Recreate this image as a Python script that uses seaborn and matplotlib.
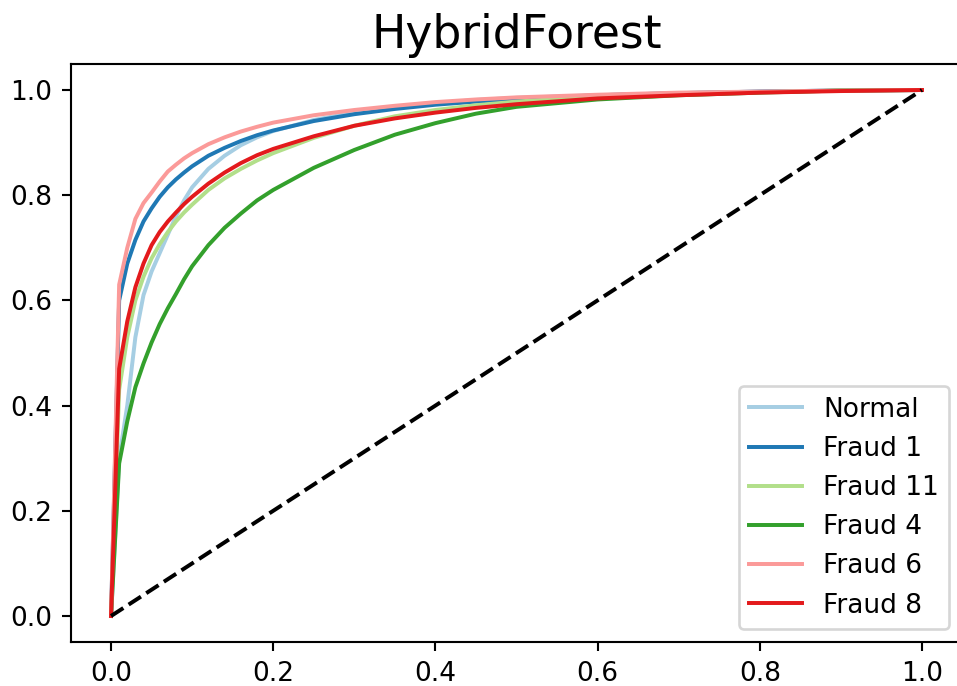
import numpy as np
import pandas as pd
import matplotlib
matplotlib.use("Agg")
import matplotlib.pyplot as plt
import seaborn as sns

fpr = [0, .01, .02, .03, .04, .05, .06, .07, .08, .09, .1, .12, .14, .16, .18, .2,
       .25, .3, .35, .4, .45, .5, .6, .7, .8, .9, 1.0]
classes = ["Normal", "Fraud 1", "Fraud 11", "Fraud 4", "Fraud 6", "Fraud 8"]
tpr_normal = [0, .30, .40, .53, .61, .655, .69, .725, .76, .79, .815, .85, .875, .895, .91, .922,
              .943, .957, .967, .975, .981, .985, .99, .994, .997, .999, 1]
tpr_fraud1 = [0, .60, .67, .715, .75, .775, .797, .815, .83, .843, .855, .875, .89, .903, .914, .923,
              .941, .954, .964, .972, .978, .983, .99, .994, .997, .999, 1]
tpr_fraud11 = [0, .43, .53, .60, .645, .68, .707, .73, .75, .767, .782, .81, .832, .85, .866, .88,
               .909, .932, .950, .962, .971, .978, .988, .993, .996, .999, 1]
tpr_fraud4 = [0, .29, .37, .435, .48, .52, .555, .585, .612, .64, .665, .705, .738, .765, .79, .81,
              .852, .886, .915, .937, .955, .968, .982, .99, .995, .999, 1]
tpr_fraud6 = [0, .63, .70, .755, .785, .805, .826, .845, .858, .87, .88, .897, .91, .921, .93, .938,
              .952, .962, .97, .977, .982, .986, .991, .995, .997, .999, 1]
tpr_fraud8 = [0, .47, .56, .625, .67, .705, .73, .75, .767, .783, .797, .822, .843, .861, .876, .888,
              .912, .932, .946, .957, .966, .973, .984, .99, .995, .998, 1]
diag = [0, 1]

series = [tpr_normal, tpr_fraud1, tpr_fraud11, tpr_fraud4, tpr_fraud6, tpr_fraud8]
rows = []
for name, tpr in zip(classes, series):
    for x, y in zip(fpr, tpr):
        rows.append({"fpr": x, "tpr": y, "cls": name})
df = pd.DataFrame(rows)

W, H, DPI = 957, 686, 190
fig = plt.figure(figsize=(W / DPI, H / DPI), dpi=DPI)
ax = fig.add_axes([70.5 / W, (H - 642.3) / H, 892 / W, 578.6 / H])

palette = sns.color_palette("Paired", 6)
sns.lineplot(data=df, x="fpr", y="tpr", hue="cls", hue_order=classes,
             palette=palette, linewidth=1.5, sort=False, estimator=None, ax=ax)
ax.plot(diag, diag, "k--", linewidth=1.5)

ax.set_title("HybridForest", fontsize="xx-large")
ax.set_xlabel("")
ax.set_ylabel("")
ax.legend(loc="lower right", fontsize=10)

fig.savefig("out.png", dpi=DPI)
